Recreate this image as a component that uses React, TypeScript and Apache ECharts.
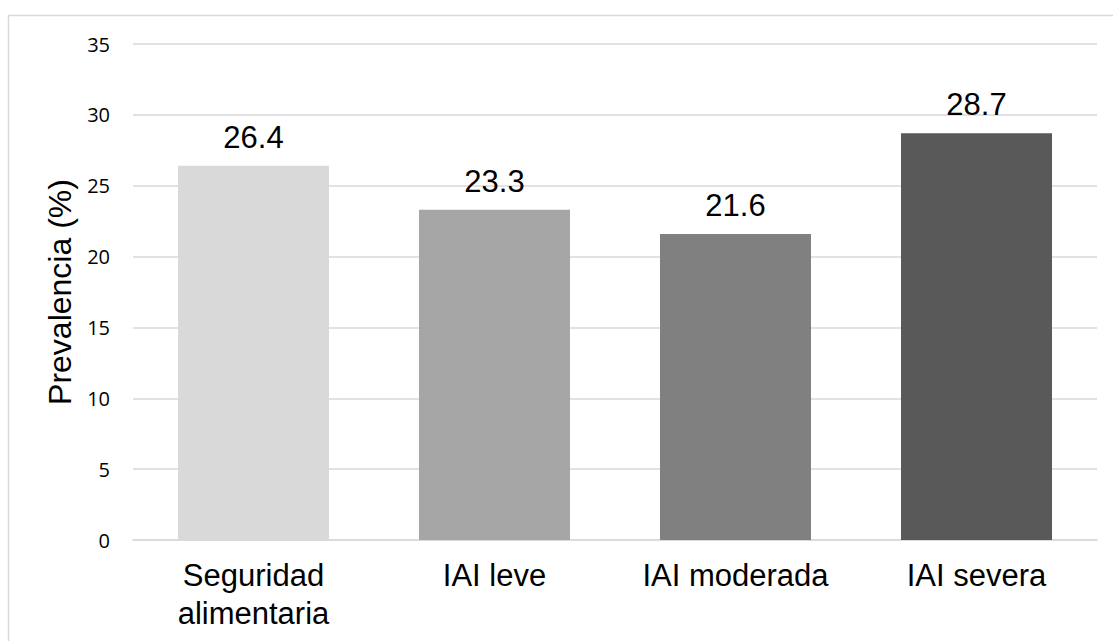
import React, { useEffect, useRef } from "react";
import * as echarts from "echarts";

const categories = ["Seguridad\nalimentaria", "IAI leve", "IAI moderada", "IAI severa"];
const values = [26.4, 23.3, 21.6, 28.7];
const barColors = ["#d9d9d9", "#a6a6a6", "#808080", "#595959"];
const yTicks = { min: 0, max: 35, interval: 5 };

export default function App() {
  const ref = useRef<HTMLDivElement>(null);
  useEffect(() => {
    const chart = echarts.init(ref.current!, null, { renderer: "svg" });
    chart.setOption({
      animation: false,
      backgroundColor: "#ffffff",
      grid: { left: 133, right: 16, top: 44, bottom: 101, containLabel: false },
      graphic: [
        {
          type: "rect",
          shape: { x: 8.5, y: 15.5, width: 1300, height: 800 },
          style: { fill: "none", stroke: "#d9d9d9", lineWidth: 1.5 },
          silent: true,
        },
      ],
      xAxis: {
        type: "category",
        data: categories,
        axisLine: { show: true, lineStyle: { color: "#d9d9d9", width: 1.5 } },
        axisTick: { show: false },
        axisLabel: {
          color: "#000",
          fontFamily: "Liberation Sans",
          fontSize: 31,
          lineHeight: 38,
          margin: 16,
          interval: 0,
        },
      },
      yAxis: {
        type: "value",
        min: yTicks.min,
        max: yTicks.max,
        interval: yTicks.interval,
        name: "Prevalencia (%)",
        nameLocation: "middle",
        nameGap: 57,
        nameTextStyle: { color: "#000", fontFamily: "Liberation Sans", fontSize: 32 },
        axisLine: { show: false },
        axisTick: { show: false },
        axisLabel: { color: "#000", fontFamily: "Open Sans", fontSize: 20, margin: 23 },
        splitLine: { lineStyle: { color: "#d9d9d9", width: 1.5 } },
      },
      series: [
        {
          type: "bar",
          data: values.map((v, i) => ({ value: v, itemStyle: { color: barColors[i] } })),
          barWidth: 151,
          label: {
            show: true,
            position: "top",
            distance: 13,
            color: "#000",
            fontFamily: "Liberation Sans",
            fontSize: 31,
            formatter: (p: any) => p.value.toFixed(1),
          },
        },
      ],
    });
    return () => chart.dispose();
  }, []);
  return (
    <div
      ref={ref}
      style={{ position: "fixed", left: 0, top: 0, width: 1113, height: 641, background: "#fff" }}
    />
  );
}
